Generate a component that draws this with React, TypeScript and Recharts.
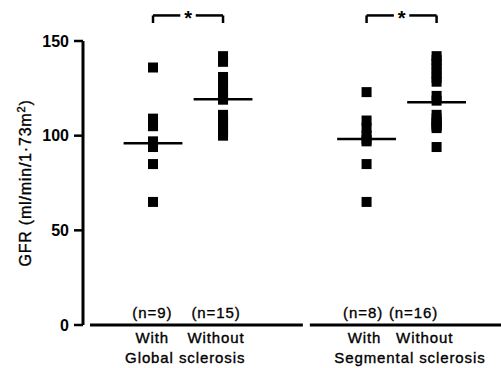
import React from 'react'
import {
  ScatterChart,
  Scatter,
  XAxis,
  YAxis,
  ReferenceLine,
  ReferenceDot,
} from 'recharts'

const FONT = '"Liberation Sans", Arial, Helvetica, sans-serif'

// x positions of the four groups
const groupX = [1, 2, 4.05, 5.05]

// GFR values (ml/min/1.73m2)
const withGlobal = [136, 109, 107, 105, 97, 96, 94, 85, 65]
const withoutGlobal = [142, 139, 131, 128, 125, 122, 120, 119, 111, 109, 107, 105, 103, 101, 100]
const withSegmental = [123, 108, 104, 100, 98, 97, 85, 65]
const withoutSegmental = [142, 140, 138, 135.5, 133, 130.5, 128.5, 121, 118.5, 111, 109, 107, 106, 105, 104, 94]
const groupValues = [withGlobal, withoutGlobal, withSegmental, withoutSegmental]

const medians = [96, 119.3, 98.3, 117.6]

const nLabels = ['(n=9)', '(n=15)', '(n=8)', '(n=16)']
const nLabelX = [0.99, 1.9, 4.0, 4.72]

const subgroupNames = ['With', 'Without', 'With', 'Without']
const subgroupX = [0.99, 1.9, 4.02, 4.88]

const groupTitles = ['Global sclerosis', 'Segmental sclerosis']
const groupTitleX = [1.46, 4.67]

const yTicks = [0, 50, 100, 150]

// significance brackets between group pairs
const bracketPairs = [
  [0, 1],
  [2, 3],
]
const bracketY = 163.5
const bracketTipY = 159.5
const starGap = 0.11

// the split baseline under the groups
const baselineSegments = [
  [0.1, 3.14],
  [3.24, 5.97],
]

const tickItems = [
  ...subgroupNames.map((t, i) => ({ x: subgroupX[i], text: t, row: 1 })),
  ...groupTitles.map((t, i) => ({ x: groupTitleX[i], text: t, row: 2 })),
]

const points = groupValues.map((vals, g) => vals.map((v) => ({ x: groupX[g], y: v })))
const nLabelData = nLabels.map((t, i) => ({ x: nLabelX[i], y: 0, label: t }))

const textStyle = {
  fontSize: 15,
  fontFamily: FONT,
  letterSpacing: 0.9,
  fill: '#000',
  stroke: '#000',
  strokeWidth: 0.35,
}

const Square = (props: any) => {
  const { cx, cy } = props
  if (cx == null || cy == null) return null
  return <rect x={cx - 5} y={cy - 5} width={10} height={10} fill="#000" />
}

const NLabel = (props: any) => {
  const { cx, cy, payload } = props
  return (
    <text x={cx} y={cy - 7} textAnchor="middle" {...textStyle}>
      {payload.label}
    </text>
  )
}

const GroupTick = (props: any) => {
  const { x, y, payload } = props
  const item = tickItems.find((t) => t.x === payload.value)
  if (!item) return null
  return (
    <text x={x} y={y + (item.row === 1 ? 18 : 38)} textAnchor="middle" {...textStyle}>
      {item.text}
    </text>
  )
}

const YLabel = (props: any) => {
  const { viewBox } = props
  const cx = viewBox.x + 8
  const cy = viewBox.y + viewBox.height / 2
  return (
    <text
      x={cx}
      y={cy}
      transform={`rotate(-90, ${cx}, ${cy})`}
      textAnchor="middle"
      {...textStyle}
      fontSize={16}
      letterSpacing={0.8}
    >
      GFR (ml/min/1·73m
      <tspan dy={-6} fontSize={11}>
        2
      </tspan>
      <tspan dy={6}>)</tspan>
    </text>
  )
}

const Star = (props: any) => {
  const { cx, cy } = props
  return (
    <text x={cx} y={cy + 10} textAnchor="middle" fontSize={20} fontWeight="bold" fontFamily={FONT} fill="#000">
      *
    </text>
  )
}

export default function App() {
  return (
    <div style={{ position: 'absolute', left: 0, top: 0, background: '#fff' }}>
      <ScatterChart width={501} height={368} margin={{ top: 41, right: 0, bottom: 0, left: 23 }}>
        <XAxis
          type="number"
          dataKey="x"
          domain={[0, 5.97]}
          allowDataOverflow
          ticks={tickItems.map((t) => t.x)}
          interval={0}
          axisLine={false}
          tickLine={false}
          tickSize={0}
          tickMargin={0}
          height={43}
          tick={<GroupTick />}
        />
        <YAxis
          type="number"
          dataKey="y"
          domain={[0, 150]}
          allowDataOverflow
          ticks={yTicks}
          width={60}
          axisLine={{ stroke: '#000', strokeWidth: 3 }}
          tickLine={{ stroke: '#000', strokeWidth: 2.5 }}
          tickSize={9}
          tickMargin={5}
          tick={{ fill: '#000', fontSize: 16, fontWeight: 'bold', fontFamily: FONT }}
          label={<YLabel />}
        />
        {baselineSegments.map(([a, b], i) => (
          <ReferenceLine
            key={`base-${i}`}
            segment={[
              { x: a, y: 0 },
              { x: b, y: 0 },
            ]}
            stroke="#000"
            strokeWidth={3}
            ifOverflow="visible"
          />
        ))}
        {points.map((data, g) => (
          <Scatter key={`grp-${g}`} data={data} shape={<Square />} isAnimationActive={false} />
        ))}
        {medians.map((m, g) => (
          <ReferenceLine
            key={`med-${g}`}
            segment={[
              { x: groupX[g] - 0.42, y: m },
              { x: groupX[g] + 0.42, y: m },
            ]}
            stroke="#000"
            strokeWidth={2.5}
            ifOverflow="visible"
          />
        ))}
        <Scatter data={nLabelData} shape={<NLabel />} isAnimationActive={false} />
        {bracketPairs.map(([a, b], i) => {
          const xa = groupX[a]
          const xb = groupX[b]
          const mid = (xa + xb) / 2
          const segs = [
            [xa, bracketTipY, xa, bracketY],
            [xa, bracketY, mid - starGap, bracketY],
            [mid + starGap, bracketY, xb, bracketY],
            [xb, bracketY, xb, bracketTipY],
          ]
          return (
            <React.Fragment key={`br-${i}`}>
              {segs.map((s, j) => (
                <ReferenceLine
                  key={`brs-${i}-${j}`}
                  segment={[
                    { x: s[0], y: s[1] },
                    { x: s[2], y: s[3] },
                  ]}
                  stroke="#000"
                  strokeWidth={2.5}
                  ifOverflow="visible"
                />
              ))}
              <ReferenceDot x={mid} y={bracketY} r={0} ifOverflow="visible" shape={<Star />} />
            </React.Fragment>
          )
        })}
      </ScatterChart>
    </div>
  )
}
